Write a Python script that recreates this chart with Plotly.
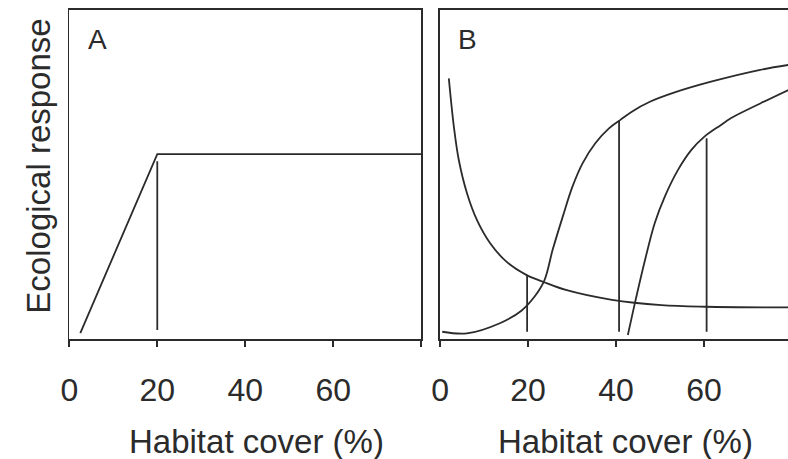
import plotly.graph_objects as go

# ---- data ----
a_x = [2.5, 20, 80]
a_y = [1.8, 56.2, 56.2]
a_thr_x = [20, 20]
a_thr_y = [2.7, 54]

b_dec_x = [2.0, 3.15, 4.27, 6.13, 8.38, 11.4, 15.1, 19.6, 23.4, 28.6, 39.1, 50.3, 60.4, 79.2]
b_dec_y = [79.2, 64.5, 54.4, 44.3, 36.2, 29.1, 23.5, 19.5, 17.4, 14.9, 11.9, 10.3, 9.8, 9.6]

b_s1_x = [0.5, 6.1, 13.6, 18.5, 21.5, 23.75, 25.6, 27.9, 30.1, 32.4, 35.3, 38.4, 41.0,
          43.6, 47.7, 53.0, 61.6, 72.8, 79.2]
b_s1_y = [2.2, 1.7, 4.8, 8.6, 12.9, 17.9, 27.1, 37.2, 46.3, 53.4, 59.5, 64.0, 66.6,
          69.1, 72.1, 74.8, 78.2, 81.8, 83.3]

b_s2_x = [42.7, 44.3, 46.6, 48.8, 51.1, 54.1, 57.1, 60.1, 63.8, 66.1, 72.8, 79.2]
b_s2_y = [1.2, 10.9, 24.0, 35.2, 43.3, 51.4, 57.4, 61.5, 65.0, 67.1, 71.6, 75.7]

b_thr_x = [19.8, 40.7, 60.6]
b_thr_top = [19.5, 66.4, 61.0]
b_thr_bottom = [2.2, 2.2, 2.2]

a_tickvals = [0, 20, 40, 60, 80]
a_ticktext = ["0", "20", "40", "60", ""]
b_tickvals = [0, 20, 40, 60]
b_ticktext = ["0", "20", "40", "60"]

x_title = "Habitat cover (%)"
y_title = "Ecological response"
panel_labels = ["A", "B"]

# ---- styling ----
INK = "#2b2b2b"
LW = 1.8
FONT = "Liberation Sans, Arial, sans-serif"
W, H = 788, 459

fig = go.Figure()

def curve(x, y, xa, ya):
    fig.add_trace(go.Scatter(x=x, y=y, mode="lines", xaxis=xa, yaxis=ya,
                             line=dict(color=INK, width=LW, shape="spline", smoothing=1.0),
                             hoverinfo="skip", showlegend=False))

def straight(x, y, xa, ya):
    fig.add_trace(go.Scatter(x=x, y=y, mode="lines", xaxis=xa, yaxis=ya,
                             line=dict(color=INK, width=LW),
                             hoverinfo="skip", showlegend=False))

# Panel A
straight(a_x, a_y, "x", "y")
straight(a_thr_x, a_thr_y, "x", "y")

# Panel B
curve(b_dec_x, b_dec_y, "x2", "y2")
curve(b_s1_x, b_s1_y, "x2", "y2")
curve(b_s2_x, b_s2_y, "x2", "y2")
for xv, yt, yb in zip(b_thr_x, b_thr_top, b_thr_bottom):
    straight([xv, xv], [yb, yt], "x2", "y2")

def px_x(p):
    return p / W

def px_y(p):
    return 1 - p / H

y_dom = [px_y(339), px_y(10)]
ax_common = dict(showgrid=False, zeroline=False, showline=True, linecolor=INK, linewidth=LW,
                 ticks="outside", ticklen=6, tickwidth=LW, tickcolor=INK,
                 tickfont=dict(family=FONT, size=32, color=INK), ticklabelstandoff=16)

fig.update_layout(
    width=W, height=H,
    margin=dict(l=0, r=0, t=0, b=0),
    paper_bgcolor="white", plot_bgcolor="white",
    hovermode=False,
    xaxis=dict(domain=[px_x(61), px_x(417)], range=[0, 80], tickvals=a_tickvals,
               ticktext=a_ticktext, mirror=True, anchor="y", **ax_common),
    yaxis=dict(domain=y_dom, range=[0, 100], showticklabels=False, mirror=True,
               showgrid=False, zeroline=False, showline=True, linecolor=INK, linewidth=LW,
               ticks="", anchor="x"),
    xaxis2=dict(domain=[px_x(436), 1.0], range=[0, (788 - 436) / 4.45], tickvals=b_tickvals,
                ticktext=b_ticktext, mirror=True, anchor="y2", **ax_common),
    yaxis2=dict(domain=y_dom, range=[0, 100], showticklabels=False, mirror=False,
                showgrid=False, zeroline=False, showline=True, linecolor=INK, linewidth=LW,
                ticks="", anchor="x2"),
)

ann_font = dict(family=FONT, size=33, color=INK)
fig.add_annotation(text=x_title, xref="paper", yref="paper", x=px_x(250), y=px_y(441),
                   showarrow=False, font=ann_font, xanchor="center", yanchor="middle")
fig.add_annotation(text=x_title, xref="paper", yref="paper", x=px_x(624), y=px_y(441),
                   showarrow=False, font=ann_font, xanchor="center", yanchor="middle")
fig.add_annotation(text=y_title, xref="paper", yref="paper", x=px_x(29), y=px_y(166),
                   showarrow=False, font=ann_font, textangle=-90,
                   xanchor="center", yanchor="middle")
fig.add_annotation(text=panel_labels[0], xref="paper", yref="paper", x=px_x(90), y=px_y(39),
                   showarrow=False, font=dict(family=FONT, size=28, color=INK),
                   xanchor="center", yanchor="middle")
fig.add_annotation(text=panel_labels[1], xref="paper", yref="paper", x=px_x(464), y=px_y(39),
                   showarrow=False, font=dict(family=FONT, size=28, color=INK),
                   xanchor="center", yanchor="middle")

fig.write_html("out.html", config={"displayModeBar": False, "staticPlot": True},
               post_script="document.body.style.margin='0';document.body.style.overflow='hidden';")
